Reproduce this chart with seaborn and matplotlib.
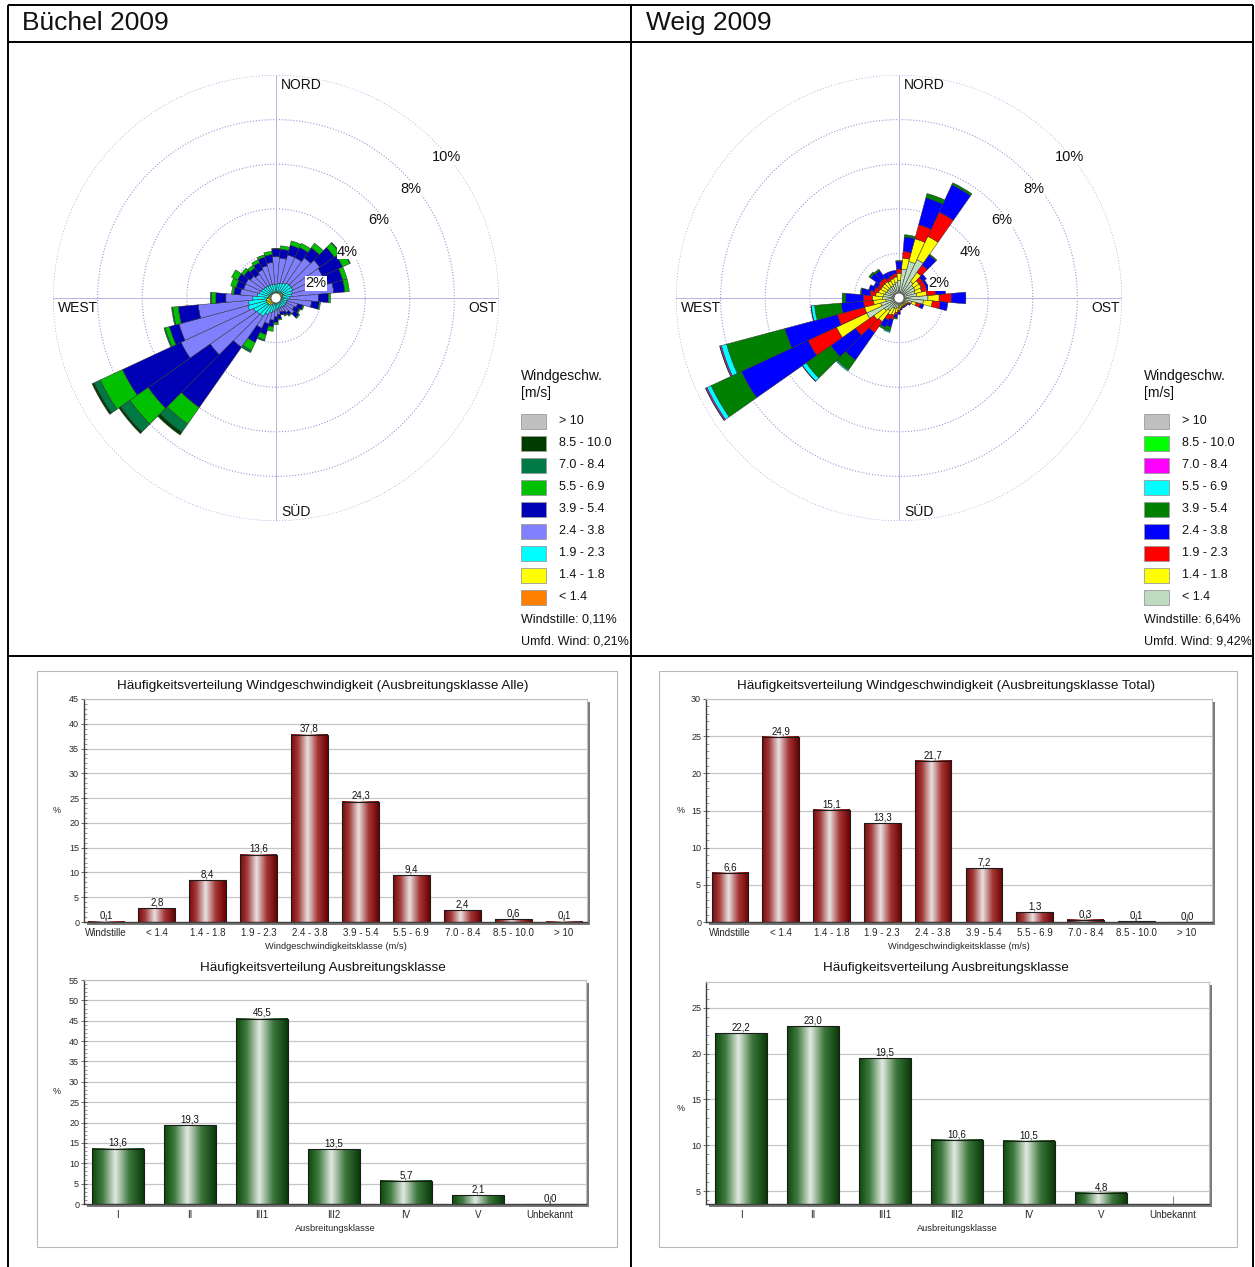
import numpy as np
import matplotlib
matplotlib.use("Agg")
import matplotlib.pyplot as plt
import seaborn as sns
from matplotlib.patches import Rectangle, Circle
from matplotlib.colors import LinearSegmentedColormap
from matplotlib.ticker import MultipleLocator
from matplotlib.transforms import Bbox

# ---------------- data ----------------
directions = [0, 10, 20, 30, 40, 50, 60, 70, 80, 90, 100, 110, 120, 130, 140, 150, 160, 170,
              180, 190, 200, 210, 220, 230, 240, 250, 260, 270, 280, 290, 300, 310, 320, 330, 340, 350]

rose_classes = ['< 1.4', '1.4 - 1.8', '1.9 - 2.3', '2.4 - 3.8', '3.9 - 5.4',
                '5.5 - 6.9', '7.0 - 8.4', '8.5 - 10.0', '> 10']

# Büchel 2009 wind rose (% per 10° sector and speed class)
bu_lt14 = [0.07, 0.07, 0.07, 0.07, 0.08, 0.08, 0.08, 0.08, 0.07, 0.07, 0.06, 0.06, 0.06, 0.06, 0.05, 0.05, 0.05, 0.05,
           0.06, 0.07, 0.08, 0.09, 0.11, 0.12, 0.12, 0.12, 0.12, 0.11, 0.10, 0.09, 0.08, 0.08, 0.07, 0.07, 0.07, 0.07]
bu_14_18 = [0.20, 0.20, 0.22, 0.22, 0.24, 0.25, 0.25, 0.24, 0.22, 0.20, 0.18, 0.15, 0.15, 0.15, 0.15, 0.14, 0.14, 0.15,
            0.16, 0.18, 0.20, 0.24, 0.30, 0.32, 0.34, 0.34, 0.32, 0.28, 0.25, 0.23, 0.22, 0.20, 0.20, 0.20, 0.20, 0.20]
bu_19_23 = [0.35, 0.40, 0.40, 0.45, 0.50, 0.50, 0.50, 0.45, 0.40, 0.35, 0.30, 0.30, 0.30, 0.30, 0.30, 0.28, 0.28, 0.30,
            0.32, 0.35, 0.40, 0.50, 0.60, 0.60, 0.65, 0.85, 0.80, 0.65, 0.50, 0.45, 0.42, 0.40, 0.38, 0.36, 0.36, 0.35]
bu_24_38 = [1.23, 1.13, 1.31, 1.26, 1.38, 1.57, 1.47, 1.63, 1.91, 1.28, 1.06, 0.49, 0.39, 0.49, 0.30, 0.23, 0.18, 0.25,
            0.31, 0.40, 0.52, 0.67, 1.69, 2.56, 3.59, 3.19, 2.26, 1.21, 0.75, 0.73, 0.78, 0.72, 0.65, 0.77, 0.87, 0.98]
bu_39_54 = [0.35, 0.40, 0.45, 0.50, 0.55, 0.80, 1.00, 0.70, 0.50, 0.45, 0.35, 0.25, 0.25, 0.25, 0.15, 0.15, 0.13, 0.20,
            0.25, 0.30, 0.50, 0.70, 3.30, 3.40, 2.90, 0.45, 0.90, 0.45, 0.30, 0.35, 0.40, 0.35, 0.35, 0.35, 0.40, 0.35]
bu_55_69 = [0.02, 0.15, 0.20, 0.20, 0.25, 0.30, 0.35, 0.20, 0.20, 0.10, 0.05, 0.05, 0.05, 0.05, 0.05, 0.05, 0.02, 0.05,
            0.10, 0.20, 0.25, 0.40, 0.90, 1.00, 1.10, 0.20, 0.25, 0.20, 0.10, 0.25, 0.30, 0.15, 0.15, 0.15, 0.10, 0.15]
bu_70_84 = [0, 0, 0, 0, 0, 0.03, 0.03, 0, 0, 0, 0, 0, 0, 0, 0, 0, 0, 0,
            0, 0, 0.05, 0.10, 0.45, 0.50, 0.30, 0.05, 0.05, 0.05, 0, 0, 0, 0, 0, 0, 0, 0]
bu_85_100 = [0, 0, 0, 0, 0, 0, 0, 0, 0, 0, 0, 0, 0, 0, 0, 0, 0, 0,
             0, 0, 0, 0, 0.15, 0.10, 0.10, 0, 0, 0, 0, 0, 0, 0, 0, 0, 0, 0]
bu_gt10 = [0, 0, 0, 0, 0, 0, 0, 0, 0, 0, 0, 0, 0, 0, 0, 0, 0, 0,
           0, 0, 0, 0, 0, 0, 0, 0, 0, 0, 0, 0, 0, 0, 0, 0, 0, 0]

# Weig 2009 wind rose
we_lt14 = [0.80, 1.30, 1.70, 1.90, 0.90, 0.80, 0.80, 0.75, 0.80, 1.30, 1.10, 0.60, 0.35, 0.30, 0.30, 0.30, 0.30, 0.35,
           0.40, 0.45, 0.50, 0.50, 0.70, 0.80, 1.60, 0.85, 0.60, 0.75, 0.70, 0.65, 0.60, 0.60, 0.60, 0.60, 0.65, 0.70]
we_14_18 = [0.30, 0.50, 1.05, 1.15, 0.50, 0.30, 0.30, 0.30, 0.45, 0.50, 0.40, 0.20, 0.10, 0.10, 0.10, 0.10, 0.10, 0.10,
            0.15, 0.20, 0.30, 0.35, 0.60, 0.58, 1.50, 0.75, 0.55, 0.45, 0.35, 0.30, 0.30, 0.30, 0.30, 0.25, 0.25, 0.25]
we_19_23 = [0.20, 0.30, 0.65, 1.20, 0.40, 0.20, 0.20, 0.25, 0.40, 0.55, 0.35, 0.20, 0.08, 0.05, 0.05, 0.05, 0.05, 0.05,
            0.08, 0.10, 0.20, 0.25, 0.60, 1.00, 1.40, 1.26, 0.45, 0.40, 0.25, 0.20, 0.15, 0.20, 0.20, 0.15, 0.15, 0.15]
we_24_38 = [0.35, 0.65, 1.25, 1.35, 0.55, 0.20, 0.10, 0.25, 0.45, 0.65, 0.35, 0.15, 0.05, 0.03, 0.03, 0.03, 0.03, 0.05,
            0.10, 0.15, 0.35, 0.35, 1.50, 1.35, 3.30, 2.44, 1.00, 0.80, 0.40, 0.25, 0.20, 0.45, 0.40, 0.25, 0.20, 0.15]
we_39_54 = [0.03, 0.10, 0.20, 0.10, 0.05, 0, 0, 0.05, 0, 0, 0, 0, 0, 0, 0, 0, 0, 0,
            0, 0.05, 0.20, 0.10, 0.55, 1.35, 1.50, 2.70, 1.20, 0.15, 0.05, 0, 0, 0.10, 0.08, 0, 0, 0]
we_55_69 = [0, 0, 0, 0, 0, 0, 0, 0, 0, 0, 0, 0, 0, 0, 0, 0, 0, 0,
            0, 0, 0.05, 0, 0.05, 0.20, 0.20, 0.25, 0.15, 0, 0, 0, 0, 0, 0, 0, 0, 0]
we_70_84 = [0, 0, 0, 0, 0, 0, 0, 0, 0, 0, 0, 0, 0, 0, 0, 0, 0, 0,
            0, 0, 0, 0, 0, 0.02, 0.06, 0.06, 0.02, 0, 0, 0, 0, 0, 0, 0, 0, 0]
we_85_100 = [0, 0, 0, 0, 0, 0, 0, 0, 0, 0, 0, 0, 0, 0, 0, 0, 0, 0,
             0, 0, 0, 0, 0, 0, 0.02, 0.02, 0, 0, 0, 0, 0, 0, 0, 0, 0, 0]
we_gt10 = [0, 0, 0, 0, 0, 0, 0, 0, 0, 0, 0, 0, 0, 0, 0, 0, 0, 0,
           0, 0, 0, 0, 0, 0, 0, 0, 0, 0, 0, 0, 0, 0, 0, 0, 0, 0]

bu_calm = "0,11%"
bu_umfd = "0,21%"
we_calm = "6,64%"
we_umfd = "9,42%"

speed_classes = ['Windstille', '< 1.4', '1.4 - 1.8', '1.9 - 2.3', '2.4 - 3.8', '3.9 - 5.4',
                 '5.5 - 6.9', '7.0 - 8.4', '8.5 - 10.0', '> 10']
bu_speed = [0.1, 2.8, 8.4, 13.6, 37.8, 24.3, 9.4, 2.4, 0.6, 0.1]
we_speed = [6.6, 24.9, 15.1, 13.3, 21.7, 7.2, 1.3, 0.3, 0.1, 0.0]

stab_classes = ['I', 'II', 'III1', 'III2', 'IV', 'V', 'Unbekannt']
bu_stab = [13.6, 19.3, 45.5, 13.5, 5.7, 2.1, 0.0]
we_stab = [22.2, 23.0, 19.5, 10.6, 10.5, 4.8, 0.0]

# ---------------- styling ----------------
sns.set_theme(style="white")
plt.rcParams['font.family'] = ['Liberation Sans', 'DejaVu Sans']
plt.rcParams['text.color'] = '#111111'

W, H = 1255, 1267
fig = plt.figure(figsize=(W / 100, H / 100), dpi=100)
fig.patch.set_facecolor('white')


def px_axes(x0, y0, x1, y1, **kw):
    return fig.add_axes([x0 / W, 1 - y1 / H, (x1 - x0) / W, (y1 - y0) / H], **kw)


bg = px_axes(0, 0, W, H)
bg.set_xlim(0, W); bg.set_ylim(H, 0); bg.axis('off'); bg.set_zorder(0)
ov = px_axes(0, 0, W, H)
ov.set_xlim(0, W); ov.set_ylim(H, 0); ov.axis('off'); ov.set_zorder(10)

# table lines
lw_t = 1.4
for (xa, xb, ya, yb) in [(8, 1253, 5, 5), (8, 1253, 42, 42), (8, 1253, 656, 656),
                         (8, 8, 5, H), (631, 631, 5, H), (1253, 1253, 5, H)]:
    ov.plot([xa, xb], [ya, yb], color='black', lw=lw_t, solid_capstyle='butt')
ov.text(22, 23, 'Büchel 2009', fontsize=19, va='center', ha='left')
ov.text(646, 23, 'Weig 2009', fontsize=19, va='center', ha='left')

R = 223


def rose(cx, cy, stack, colors, legend_x, calm, umfd, cell):
    ax = px_axes(cx - R, cy - R, cx + R, cy + R, projection='polar')
    ax.set_zorder(2)
    ax.patch.set_alpha(0)
    ax.set_theta_zero_location('N')
    ax.set_theta_direction(-1)
    ax.grid(False)
    ax.spines['polar'].set_visible(False)
    t = np.linspace(0, 2 * np.pi, 721)
    for r in [2, 4, 6, 8, 10]:
        ax.plot(t, np.full_like(t, r), ls=(0, (1, 1.6)), color='#9898d8', lw=0.8, zorder=0)
    for a in [0, np.pi / 2, np.pi, 1.5 * np.pi]:
        ax.plot([a, a], [0, 10], color='#b4b4e4', lw=0.7, zorder=0)
    theta = np.deg2rad(np.array(directions, dtype=float))
    bottom = np.zeros(len(directions))
    for vals, col in zip(stack, colors):
        v = np.asarray(vals, dtype=float)
        m = v > 0
        if m.any():
            ax.bar(theta[m], v[m], width=np.deg2rad(10), bottom=bottom[m], color=col,
                   edgecolor='#303030', linewidth=0.35, zorder=2)
        bottom = bottom + v
    ax.set_ylim(0, 10)
    ax.set_xticks([]); ax.set_yticks([])
    # calm circle
    ov.add_patch(Circle((cx, cy), 5, fc='white', ec='#555555', lw=0.6, zorder=3))
    # direction labels
    ov.text(cx + 5, cy - R + 3, 'NORD', ha='left', va='top', fontsize=10)
    ov.text(cx + 5, cy + R - 2, 'SÜD', ha='left', va='bottom', fontsize=10)
    ov.text(cx - R + 5, cy + 3, 'WEST', ha='left', va='top', fontsize=10)
    ov.text(cx + R - 2, cy + 3, 'OST', ha='right', va='top', fontsize=10)
    for r in [2, 4, 6, 8, 10]:
        rp = r * R / 10.0
        px, py = cx + rp * 0.7071, cy - rp * 0.7071
        ov.text(px - 2, py + 10, f'{r}%', ha='left', va='top', fontsize=10.5,
                bbox=dict(fc='white', ec='none', pad=0.3))
    # legend
    ov.text(legend_x, 376, 'Windgeschw.', fontsize=10, va='center', ha='left')
    ov.text(legend_x, 393, '[m/s]', fontsize=10, va='center', ha='left')
    for i, (lab, col) in enumerate(zip(rose_classes[::-1], colors[::-1])):
        y = 421 + 22 * i
        ov.add_patch(Rectangle((legend_x, y - 7.5), 25, 15, fc=col, ec='#9a9a9a', lw=0.6))
        ov.text(legend_x + 38, y, lab, fontsize=9, va='center', ha='left')
    ov.text(legend_x, 619, 'Windstille: ' + calm, fontsize=9, va='center', ha='left')
    tt = ov.text(legend_x, 641, 'Umfd. Wind: ' + umfd, fontsize=9, va='center', ha='left')
    x0c, x1c = cell
    tt.set_clip_on(True)
    tt.set_clip_box(Bbox.from_extents(x0c, H - 656, x1c, H - 42))


bu_colors = ['#ff8000', '#ffff00', '#00ffff', '#8080ff', '#0000b4', '#00c000', '#007a45', '#003c00', '#c0c0c0']
we_colors = ['#c0dcc0', '#ffff00', '#ff0000', '#0000ff', '#008000', '#00ffff', '#ff00ff', '#00ff00', '#c0c0c0']

rose(276, 298, [bu_lt14, bu_14_18, bu_19_23, bu_24_38, bu_39_54, bu_55_69, bu_70_84, bu_85_100, bu_gt10],
     bu_colors, 521, bu_calm, bu_umfd, (9, 629))
rose(899, 298, [we_lt14, we_14_18, we_19_23, we_24_38, we_39_54, we_55_69, we_70_84, we_85_100, we_gt10],
     we_colors, 1144, we_calm, we_umfd, (632, 1251))

# panel boxes
bg.add_patch(Rectangle((37, 671), 580, 576, fc='none', ec='#b8b8b8', lw=0.8))
bg.add_patch(Rectangle((659, 671), 578, 576, fc='none', ec='#b8b8b8', lw=0.8))

red_cmap = LinearSegmentedColormap.from_list('redbar', [(0, '#780808'), (0.2, '#a53c3c'), (0.45, '#e8e2e2'),
                                                        (0.72, '#a53636'), (1, '#6a0000')])
green_cmap = LinearSegmentedColormap.from_list('grnbar', [(0, '#0b470b'), (0.2, '#3f7a3f'), (0.45, '#e2eae2'),
                                                          (0.72, '#3b763b'), (1, '#083a08')])


def fmt(v):
    return f'{v:.1f}'.replace('.', ',')


def bar_chart(box, cats, vals, ylim, xlim, cmap, base_col, title, title_xy, xlabel, ylab_xy):
    x0, y0, x1, y1 = box
    bg.add_patch(Rectangle((x0 + 3, y0 + 3), x1 - x0, y1 - y0, fc='#7a7a7a', ec='none'))
    ax = px_axes(x0, y0, x1, y1)
    ax.set_zorder(2)
    ax.set_facecolor('white')
    sns.barplot(x=cats, y=vals, order=cats, color=base_col, width=0.72, saturation=1,
                errorbar=None, edgecolor='#1c1c1c', linewidth=0.8, ax=ax)
    grad = np.linspace(0, 1, 256).reshape(1, -1)
    for p in ax.patches:
        bx, by = p.get_x(), p.get_y()
        bw, bh = p.get_width(), p.get_height()
        p.set_facecolor('none')
        p.set_zorder(1.2)
        ytop = by + bh
        ybot = max(by, ylim[0])
        if ytop <= ybot:
            continue
        ax.imshow(grad, extent=[bx, bx + bw, ybot, ytop], aspect='auto', cmap=cmap,
                  origin='lower', zorder=1.1, interpolation='bilinear')
    labels = [fmt(v) if v >= ylim[0] else '' for v in vals]
    ax.bar_label(ax.containers[0], labels=labels, fontsize=7, padding=0.5, color='#111111')
    ax.set_xlim(*xlim)
    ax.set_ylim(*ylim)
    ax.grid(False)
    for v in np.arange(5, ylim[1] + 0.01, 5):
        if v > ylim[0]:
            ax.axhline(v, color='#c6c6c6', lw=0.9, zorder=0.5)
    ax.yaxis.set_major_locator(MultipleLocator(5))
    ax.yaxis.set_minor_locator(MultipleLocator(1))
    ax.tick_params(axis='y', which='major', direction='inout', length=5, width=0.6, color='#505050',
                   labelsize=6.5, pad=1, left=True)
    ax.tick_params(axis='y', which='minor', direction='in', length=2.5, width=0.5, color='#707070', left=True)
    ax.tick_params(axis='x', which='major', direction='in', length=6, width=0.6, color='#707070',
                   labelsize=7, pad=4.5, bottom=True)
    for s in ['left', 'bottom']:
        ax.spines[s].set_color('#404040')
        ax.spines[s].set_linewidth(1.0)
    for s in ['top', 'right']:
        ax.spines[s].set_color('#c0c0c0')
        ax.spines[s].set_linewidth(0.8)
    ax.set_xlabel(xlabel, fontsize=6.7, labelpad=2.5)
    ax.set_ylabel('%', rotation=0, fontsize=6.5, va='center', ha='center')
    ax.yaxis.set_label_coords(*ylab_xy)
    ov.text(title_xy[0], title_xy[1], title, ha='center', va='center', fontsize=9.7)
    return ax


bar_chart((84, 699, 587, 922), speed_classes, bu_speed, (0, 45), (-0.43, 9.45), red_cmap, '#8b1a1a',
          'Häufigkeitsverteilung Windgeschwindigkeit (Ausbreitungsklasse Alle)', (323, 686),
          'Windgeschwindigkeitsklasse (m/s)', (-0.055, 0.5))
bar_chart((84, 980, 586, 1204), stab_classes, bu_stab, (0, 55), (-0.47, 6.5), green_cmap, '#1a5a1a',
          'Häufigkeitsverteilung Ausbreitungsklasse', (323, 968),
          'Ausbreitungsklasse', (-0.055, 0.5))
bar_chart((706, 699, 1212, 922), speed_classes, we_speed, (0, 30), (-0.47, 9.49), red_cmap, '#8b1a1a',
          'Häufigkeitsverteilung Windgeschwindigkeit (Ausbreitungsklasse Total)', (946, 686),
          'Windgeschwindigkeitsklasse (m/s)', (-0.051, 0.5))
bar_chart((706, 982, 1209, 1204), stab_classes, we_stab, (3.6, 27.8), (-0.49, 6.5), green_cmap, '#1a5a1a',
          'Häufigkeitsverteilung Ausbreitungsklasse', (946, 968),
          'Ausbreitungsklasse', (-0.051, 0.43))

fig.savefig('out.png', dpi=100, facecolor='white')
